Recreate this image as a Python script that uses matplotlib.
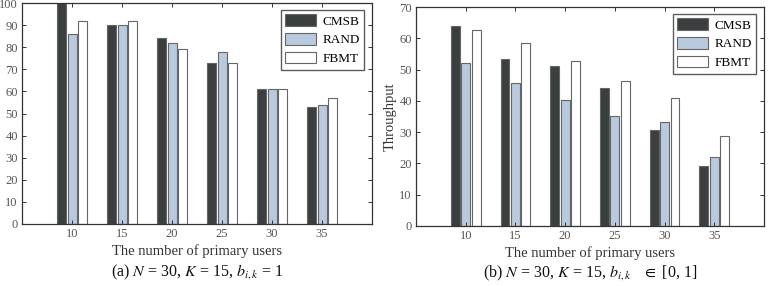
import numpy as np
import matplotlib
matplotlib.use("Agg")
import matplotlib.pyplot as plt

plt.rcParams['font.family'] = ['Liberation Serif', 'DejaVu Serif']
plt.rcParams['mathtext.fontset'] = 'stix'

users = [10, 15, 20, 25, 30, 35]
methods = ["CMSB", "RAND", "FBMT"]

# (a) b_ik = 1
cmsb_a = [100, 90, 84, 73, 61, 53]
rand_a = [86, 90, 82, 78, 61, 54]
fbmt_a = [92, 92, 79, 73, 61, 57]

# (b) b_ik in [0, 1]
cmsb_b = [63.8, 53.4, 51.1, 44.0, 30.8, 19.2]
rand_b = [52.1, 45.7, 40.2, 35.3, 33.4, 22.2]
fbmt_b = [62.7, 58.4, 52.6, 46.3, 40.8, 28.8]

colors = ["#3b3f3f", "#b9cade", "#ffffff"]
edge = "#666666"


def draw_panel(ax, series, ymax, caption):
    x = np.arange(len(users))
    offsets = [-0.21, 0.0, 0.21]
    for vals, off, c, name in zip(series, offsets, colors, methods):
        ax.bar(x + off, vals, width=0.18, color=c, edgecolor=edge,
               linewidth=0.8, label=name)
    ax.set_xlim(-1, 6)
    ax.set_ylim(0, ymax)
    ax.set_xticks(x)
    ax.set_xticklabels(users)
    ax.set_yticks(np.arange(0, ymax + 1, 10))
    ax.tick_params(direction='in', top=True, right=True, labelsize=9,
                   colors='#333333', labelcolor='#555555', length=3,
                   width=0.7, pad=3)
    for s in ax.spines.values():
        s.set_color('#333333')
        s.set_linewidth(0.9)
    ax.set_xlabel("The number of primary users", fontsize=10.5,
                  color='#333333', labelpad=3)
    ax.set_ylabel("Throughput", fontsize=10.5, color='#333333')
    leg = ax.legend(loc='upper right', fontsize=9.5, frameon=True,
                    fancybox=False, handlelength=2.3, handleheight=1.0,
                    borderpad=0.35, labelspacing=0.4, handletextpad=0.5,
                    borderaxespad=0.0, edgecolor='#333333',
                    bbox_to_anchor=(0.978, 0.97))
    leg.get_frame().set_linewidth(1.0)
    ax.text(0.5, -0.175, caption, transform=ax.transAxes, ha='center',
            va='top', fontsize=11.5, color='#111111')


fig = plt.figure(figsize=(7.7, 2.86), dpi=100)
ax1 = fig.add_axes([22 / 770, 1 - 224 / 286, 350 / 770, 221 / 286])
ax2 = fig.add_axes([416 / 770, 1 - 226 / 286, 348 / 770, 219 / 286])

draw_panel(ax1, [cmsb_a, rand_a, fbmt_a], 100,
           r"(a) $N$ = 30, $K$ = 15, $b_{i,k}$ = 1")
draw_panel(ax2, [cmsb_b, rand_b, fbmt_b], 70,
           r"(b) $N$ = 30, $K$ = 15, $b_{i,k}$   $\in$ [0, 1]")
ax1.yaxis.labelpad = 4
ax2.yaxis.labelpad = 2

fig.savefig("out.png", dpi=100)
